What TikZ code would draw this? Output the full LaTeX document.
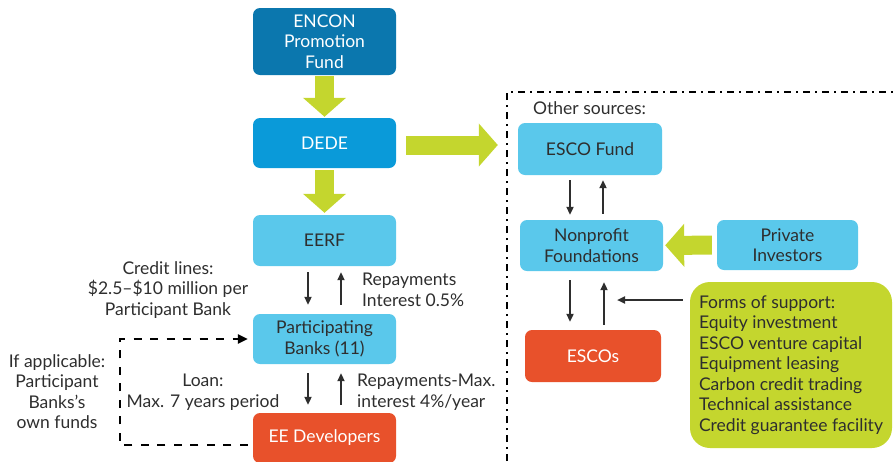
\documentclass[tikz,border=0pt]{standalone}
\usepackage{fontspec}
\setmainfont{Lato}
\usetikzlibrary{positioning, arrows.meta, calc}

\definecolor{enconblue}{HTML}{0B77AE}
\definecolor{dedeblue}{HTML}{0A9AD9}
\definecolor{lightblue}{HTML}{5AC8EB}
\definecolor{escoorange}{HTML}{E8512B}
\definecolor{limegreen}{HTML}{C4D62E}
\definecolor{textgray}{HTML}{2E2E2E}

\begin{document}
\begin{tikzpicture}[
	  x=1pt, y=-1pt,
	  font=\fontsize{17.5}{20.5}\selectfont,
	  box/.style={
	    align=center,
	    minimum width=143pt,
	    minimum height=50pt,
	    rounded corners=7pt,
	    inner sep=2pt,
	    text=textgray,
	    fill=lightblue
	  },
	  fundbox/.style={box,fill=enconblue,text=white},
	  agencybox/.style={box,fill=dedeblue,text=white},
	  userbox/.style={box,fill=escoorange,text=white},
	  supportbox/.style={box,fill=limegreen,align=left,rounded corners=20pt},
	  note/.style={align=center, text=textgray, inner sep=0pt},
	  bigarrow/.style={-{Triangle[width=42pt,length=19pt]}, line width=19pt, limegreen},
	  arrow/.style={-{Triangle[width=7pt,length=8pt]}, line width=2pt, textgray},
	  frameline/.style={line width=2.5pt, dash pattern=on 7pt off 5pt on 2pt off 5pt},
	  dashline/.style={line width=2.8pt, dash pattern=on 8pt off 8.5pt}
	]
	\useasboundingbox (0,0) rectangle (893,461);

	% --- Main column ---
	\node[fundbox, minimum height=67pt] (encon) at (324.5,41.5) {ENCON\\Promotion\\Fund};
	\node[agencybox] (dede) at (324.5,143) {DEDE};
	\node[box, minimum height=51pt] (eerf) at (324.5,240.5) {EERF};
	\node[box] (banks) at (324.5,339) {Participating\\Banks (11)};
	\node[userbox] (dev) at (324.5,438) {EE Developers};

	% --- Other sources ---
	\node[note, anchor=west] (othernote) at (533,108) {Other sources:};
	\node[box, minimum width=144pt, minimum height=52pt] (escofund) at (590,149) {ESCO Fund};
	\node[box, minimum height=51pt] (nonprofit) at (591.5,245.5) {Nonprofit\\Foundations};
	\node[box, minimum width=141pt] (private) at (787.5,245) {Private\\Investors};
	\node[userbox, minimum width=136pt, minimum height=52pt] (escos) at (593,356) {ESCOs};
	\node[supportbox, minimum width=202pt, minimum height=166pt, xshift=0pt] (support) at (791,365)
	  {Forms of support:\\Equity investment\\ESCO venture capital\\Equipment leasing\\Carbon credit trading\\Technical assistance\\Credit guarantee facility};

	% --- Labels ---
	\node[note] (creditnote) at (168,290) {Credit lines:\\\$2.5--\$10 million per\\Participant Bank};
	\node[note, align=left, anchor=west] (repaynote) at (362,290) {Repayments\\Interest 0.5\%};
	\node[note] (loannote) at (203,392) {Loan:\\Max. 7 years period};
	\node[note, align=left, anchor=west] (repaymax) at (357,392) {Repayments-Max.\\interest 4\%/year};
	\node[note] (ownfunds) at (57,391.5) {If applicable:\\Participant\\Banks’s\\own funds};

	% --- Frame ---
	\coordinate (framebottom) at (507,461);
	\coordinate (framecorner) at (507,92);
	\coordinate (frameright) at (893,92);
	\draw[frameline] (framebottom) -- (framecorner) -- (frameright);

	% --- Flows ---
	\draw[bigarrow, shorten <=1pt, shorten >=1pt] (encon) -- (dede);
	\draw[bigarrow, shorten <=2pt, shorten >=2pt] (dede) -- (eerf);
	\draw[bigarrow, shorten <=10pt, shorten >=20pt] ([yshift=-2pt]dede.east) -- ([yshift=-2pt]dede.east -| escofund.west);
	\draw[bigarrow, shorten <=5pt, shorten >=2pt] (private) -- (nonprofit);

	\draw[arrow, shorten <=6pt, shorten >=9pt] ([xshift=-16.5pt]eerf.south) -- ([xshift=-16.5pt]banks.north);
	\draw[arrow, shorten <=9pt, shorten >=6pt] ([xshift=16.5pt]banks.north) -- ([xshift=16.5pt]eerf.south);
	\draw[arrow, shorten <=9pt, shorten >=8pt] ([xshift=-16.5pt]banks.south) -- ([xshift=-16.5pt]dev.north);
	\draw[arrow, shorten <=8pt, shorten >=9pt] ([xshift=16.5pt]dev.north) -- ([xshift=16.5pt]banks.south);

	\draw[arrow, shorten <=5pt, shorten >=5pt] ([xshift=-20pt]escofund.south) -- ([xshift=-20pt]escofund.south |- nonprofit.north);
	\draw[arrow, shorten <=6pt, shorten >=5pt] ([xshift=13pt]escofund.south |- nonprofit.north) -- ([xshift=13pt]escofund.south);
	\draw[arrow, shorten <=9pt, shorten >=8pt] ([xshift=-21.5pt]nonprofit.south) -- ([xshift=-21.5pt]nonprofit.south |- escos.north);
	\draw[arrow, shorten <=5pt, shorten >=11pt] ([xshift=12.5pt]nonprofit.south |- escos.north) -- ([xshift=12.5pt]nonprofit.south);

	\coordinate (supporttip) at (617,300);
	\draw[arrow, shorten <=7pt] (support.west |- supporttip) -- (supporttip);

	\coordinate (dashcorner) at (120,339);
	\draw[dashline, -{Triangle[width=9pt,length=10pt]}] ([shift={(-5pt,-7pt)}]dev.west) -| (dashcorner) -- ([xshift=-5pt]banks.west);

\end{tikzpicture}
\end{document}
